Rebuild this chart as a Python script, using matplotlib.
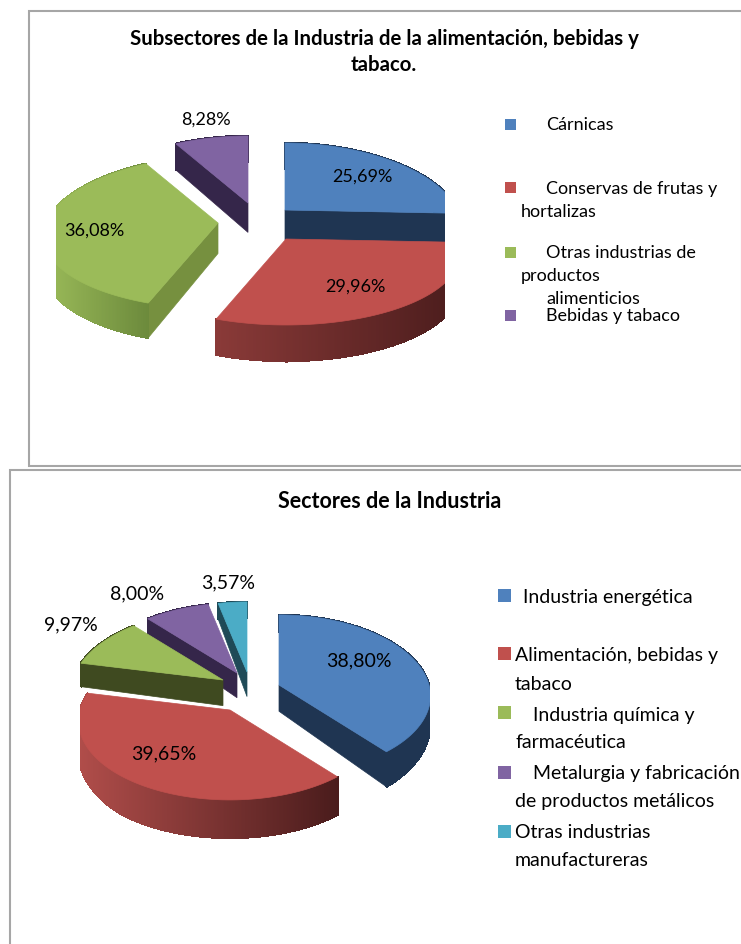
from matplotlib import pyplot as plt
from matplotlib.patches import Polygon, Rectangle
from matplotlib.colors import to_rgb
import numpy as np

plt.rcParams['font.family'] = ['Lato', 'DejaVu Sans']

#Data
top_title = ["Subsectores de la Industria de la alimentación, bebidas y", "tabaco."]
top_categories = ["Cárnicas", "Conservas de frutas y hortalizas",
	"Otras industrias de productos alimenticios", "Bebidas y tabaco"]
top_values = [25.69, 29.96, 36.08, 8.28]

bottom_title = ["Sectores de la Industria"]
bottom_categories = ["Industria energética", "Alimentación, bebidas y tabaco",
	"Industria química y farmacéutica", "Metalurgia y fabricación de productos metálicos",
	"Otras industrias manufactureras"]
bottom_values = [38.80, 39.65, 9.97, 8.00, 3.57]

#Office palette: face, cut side, rim left, rim right
BLUE = ("#4f81bd", "#1f3552", "#1f3552", "#1f3552")
RED = ("#c0504d", "#4a1c1c", "#8a3a38", "#4a1c1c")
RED_LIGHT = ("#c0504d", "#4a1c1c", "#b04d4a", "#4a1c1c")
GREEN = ("#9bbb59", "#76903f", "#9bbb59", "#6c8a3c")
GREEN_DARK = ("#9bbb59", "#3f4a20", "#3f4a20", "#3f4a20")
PURPLE = ("#8064a2", "#35264a", "#35264a", "#35264a")
TEAL = ("#4bacc6", "#1f4a57", "#1f4a57", "#1f4a57")

fig = plt.figure(figsize=(7.41, 9.44), dpi=100)
ax = fig.add_axes([0, 0, 1, 1])
ax.set_xlim(0, 741)
ax.set_ylim(944, 0)
ax.axis("off")

def project(angle, rx, ry, kx, ky=0.124):
	"""Clockwise angle from 12 o'clock to an offset on a tilted disc, with some perspective."""
	s, c = np.sin(np.radians(angle)), np.cos(np.radians(angle))
	return rx * s * (1 - kx * c), -ry * c * (1 - ky * c)

def add_clipped(pts, col, clip, smooth=True):
	patch = Polygon(pts, closed=True, fc=col, ec=col, lw=0.5 if smooth else 1, antialiased=smooth)
	ax.add_patch(patch)
	patch.set_clip_path(clip)

def draw_slice(apex, a1, a2, style, rx, ry, kx, depth, clip):
	face, cut, rim_l, rim_r = style
	angles = np.linspace(a1, a2, max(int(2 * (a2 - a1)), 2) + 1)
	dx, dy = project(angles, rx, ry, kx)
	xs, ys = apex[0] + dx, apex[1] + dy

	def down(x, y):
		return (x, y + depth(y))

	#Cut sides first, only the ones turned to the viewer
	for i, visible in ((0, np.cos(np.radians(a1 - 90)) < 0), (-1, np.cos(np.radians(a2 + 90)) < 0)):
		if visible:
			add_clipped([apex, (xs[i], ys[i]), down(xs[i], ys[i]), down(*apex)], cut, clip)

	#Rim as small quads so the shading can run from left to right
	for i in range(len(xs) - 1):
		t = (xs[i] - xs.min()) / (xs.max() - xs.min())
		col = np.array(to_rgb(rim_l)) * (1 - t) + np.array(to_rgb(rim_r)) * t
		add_clipped([(xs[i], ys[i]), (xs[i + 1], ys[i + 1]), down(xs[i + 1], ys[i + 1]), down(xs[i], ys[i])], col, clip, smooth=False)

	add_clipped([apex] + list(zip(xs, ys)), face, clip)

def draw_pie(values, styles, center, offsets, rx, ry, kx, depth, xlimits):
	edges = np.concatenate([[0], np.cumsum(values)]) / sum(values) * 360
	mids = (edges[:-1] + edges[1:]) / 2
	#The plot area cuts the pie off flat at both sides
	clip = Rectangle((xlimits[0], 0), xlimits[1] - xlimits[0], 944, transform=ax.transData)
	#Back slices first
	for i in np.argsort(-np.cos(np.radians(mids))):
		apex = (center[0] + offsets[i][0], center[1] + offsets[i][1])
		draw_slice(apex, edges[i], edges[i + 1], styles[i], rx, ry, kx, depth, clip)

def pct(v):
	return f"{v:.2f}%".replace(".", ",")

def frame(x0, y0, x1, y1):
	ax.add_patch(Rectangle((x0, y0), x1 - x0, y1 - y0, fc="white", ec="#a6a6a6", lw=1.5))

def legend_entry(y, x, color, size):
	ax.add_patch(Rectangle((x, y), size[0], size[1], fc=color, ec="none"))

#Upper chart
frame(29, 11, 742, 466)
for line, y in zip(top_title, (39, 65)):
	ax.text(384, y, line, ha="center", va="center", fontsize=14.7, fontweight="bold", color="black")

draw_pie(top_values, (BLUE, RED, GREEN, PURPLE), (250, 222),
	[(35, -12), (36, 17), (-32, 1), (-2, -19)], 172, 76.5, 0.18,
	lambda y: 26 + (y - 140) * 0.054, (56, 445))

for v, (x, y) in zip(top_values, [(362, 177), (355, 287), (94, 231), (206, 120)]):
	ax.text(x, y, pct(v), ha="center", va="center", fontsize=13, color="black")

for style, y in zip((BLUE, RED, GREEN, PURPLE), (119, 182, 247, 310)):
	legend_entry(y, 505, style[0], (11, 11))
top_lines = [("Cárnicas", 546, 125), ("Conservas de frutas y", 546, 189), ("hortalizas", 521, 212),
	("Otras industrias de", 546, 253), ("productos", 521, 276), ("alimenticios", 546, 299),
	("Bebidas y tabaco", 546, 316)]
for line, x, y in top_lines:
	ax.text(x, y, line, ha="left", va="center", fontsize=13, color="black")

#Lower chart
frame(10, 470, 760, 960)
ax.text(390, 501, bottom_title[0], ha="center", va="center", fontsize=15.5, fontweight="bold", color="black")

draw_pie(bottom_values, (BLUE, RED_LIGHT, GREEN_DARK, PURPLE, TEAL), (250, 690),
	[(29, -5), (-20, 20), (-27, -10), (-13, -17), (-3, -18)], 150, 80, 0.14,
	lambda y: min(16 + (y - 606) * 0.13, 38), (80, 430))

for v, (x, y) in zip(bottom_values, [(359, 661), (164, 754), (71, 625), (137, 594), (228, 583)]):
	ax.text(x, y, pct(v), ha="center", va="center", fontsize=14, color="black")

for style, y in zip((BLUE, RED, GREEN, PURPLE, TEAL), (589, 647, 706, 766, 825)):
	legend_entry(y, 498, style[0], (13, 13))
bottom_lines = [("Industria energética", 523, 597), ("Alimentación, bebidas y", 515, 656), ("tabaco", 515, 684),
	("Industria química y", 533, 715), ("farmacéutica", 515, 743),
	("Metalurgia y fabricación", 533, 773), ("de productos metálicos", 515, 802),
	("Otras industrias", 515, 832), ("manufactureras", 515, 861)]
for line, x, y in bottom_lines:
	ax.text(x, y, line, ha="left", va="center", fontsize=14, color="black")

fig.savefig("out.png", dpi=100)
